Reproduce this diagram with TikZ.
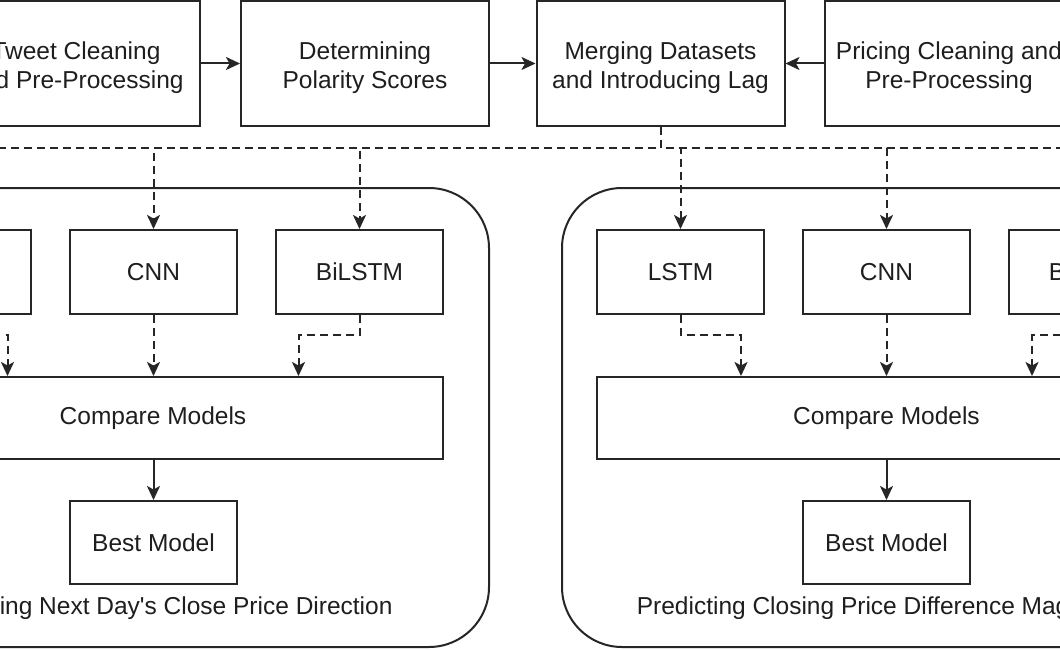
\documentclass[tikz,border=0pt]{standalone}
\usepackage{fontspec}
\setmainfont{Liberation Sans}[Ligatures=TeXOff]
\usetikzlibrary{arrows.meta,calc}
\definecolor{linec}{HTML}{262626}
\definecolor{textc}{HTML}{1E1E1E}
\newcommand{\fs}{\fontsize{24.5}{29}\selectfont}
\newcommand{\up}{\rule{0pt}{26pt}}
\tikzset{
  boxnode/.style={draw=linec, line width=2pt, fill=white, align=center, font=\fs, text=textc, inner sep=0pt},
  topbox/.style={boxnode, minimum width=248pt, minimum height=125pt},
  modelbox/.style={boxnode, minimum width=167pt, minimum height=84pt},
  cmpbox/.style={boxnode, minimum width=580pt, minimum height=82pt},
  bestbox/.style={boxnode, minimum width=167pt, minimum height=83pt},
  container/.style={draw=linec, line width=2pt, rounded corners=60pt, inner sep=0pt},
  solidarrow/.style={draw=linec, line width=2pt, -{Stealth[length=14pt,width=13pt,inset=3.5pt]}},
  dasharrow/.style={draw=linec, line width=2pt, dash pattern=on 8pt off 5pt, -{Stealth[length=14pt,width=13pt,inset=3.5pt]}},
  lab/.style={font=\fs, text=textc, inner sep=0pt}
}
\begin{document}
\begin{tikzpicture}[x=1pt,y=-1pt]
\useasboundingbox (0,0) rectangle (1060,650);
\clip (0,0) rectangle (1060,650);
\fill[white] (0,0) rectangle (1060,650);
% containers
\node[container, minimum width=660pt, minimum height=459pt] (lcont) at (159,417.5) {};
\node[container, minimum width=649pt, minimum height=459pt] (rcont) at (886.5,417.5) {};
% top row
\node[topbox] (tweet) at (76,63.5) {\up Tweet Cleaning\\and Pre-Processing};
\node[topbox] (polar) at (365,63.5) {\up Determining\\Polarity Scores};
\node[topbox] (merge) at (660.5,63.5) {\up Merging Datasets\\and Introducing Lag};
\node[topbox] (price) at (949,63.5) {\up Pricing Cleaning and\\Pre-Processing};
% left models
\node[modelbox] (llstm) at (-52.5,272) {LSTM};
\node[modelbox] (lcnn) at (153.5,272) {CNN};
\node[modelbox] (lbilstm) at (359.5,272) {BiLSTM};
\node[cmpbox] (lcmp) at (153,418) {Compare Models};
\node[bestbox] (lbest) at (153.5,542.5) {Best Model};
\node[lab] (llab) at (158,608) {Predicting Next Day's Close Price Direction};
% right models
\node[modelbox] (rlstm) at (680.5,272) {LSTM};
\node[modelbox] (rcnn) at (886.5,272) {CNN};
\node[modelbox] (rbilstm) at (1092.5,272) {BiLSTM};
\node[cmpbox] (rcmp) at (886.5,418) {Compare Models};
\node[bestbox] (rbest) at (886.5,542.5) {Best Model};
\node[lab] (rlab) at (886.5,608) {Predicting Closing Price Difference Magnitude};
% top arrows
\draw[solidarrow] (tweet.east) -- (polar.west);
\draw[solidarrow] (polar.east) -- (merge.west);
\draw[solidarrow] (price.west) -- (merge.east);
% dashed distribution
\foreach \m in {llstm,lcnn,lbilstm,rlstm,rcnn,rbilstm}{
  \draw[dasharrow] (merge.south) -- ++(0,21) -| (\m.north);
}
% to compare
\coordinate (lc1) at ($(lcmp.north west)!0.25!(lcmp.north east)$);
\coordinate (lc3) at ($(lcmp.north west)!0.75!(lcmp.north east)$);
\coordinate (rc1) at ($(rcmp.north west)!0.25!(rcmp.north east)$);
\coordinate (rc3) at ($(rcmp.north west)!0.75!(rcmp.north east)$);
\draw[dasharrow] (llstm.south) -- ++(0,20) -| (lc1);
\draw[dasharrow] (lcnn.south) -- (lcnn.south |- lcmp.north);
\draw[dasharrow] (lbilstm.south) -- ++(0,20) -| (lc3);
\draw[dasharrow] (rlstm.south) -- ++(0,20) -| (rc1);
\draw[dasharrow] (rcnn.south) -- (rcnn.south |- rcmp.north);
\draw[dasharrow] (rbilstm.south) -- ++(0,20) -| (rc3);
% to best
\draw[solidarrow] (lcmp.south -| lbest.north) -- (lbest.north);
\draw[solidarrow] (rcmp.south -| rbest.north) -- (rbest.north);
\end{tikzpicture}
\end{document}
